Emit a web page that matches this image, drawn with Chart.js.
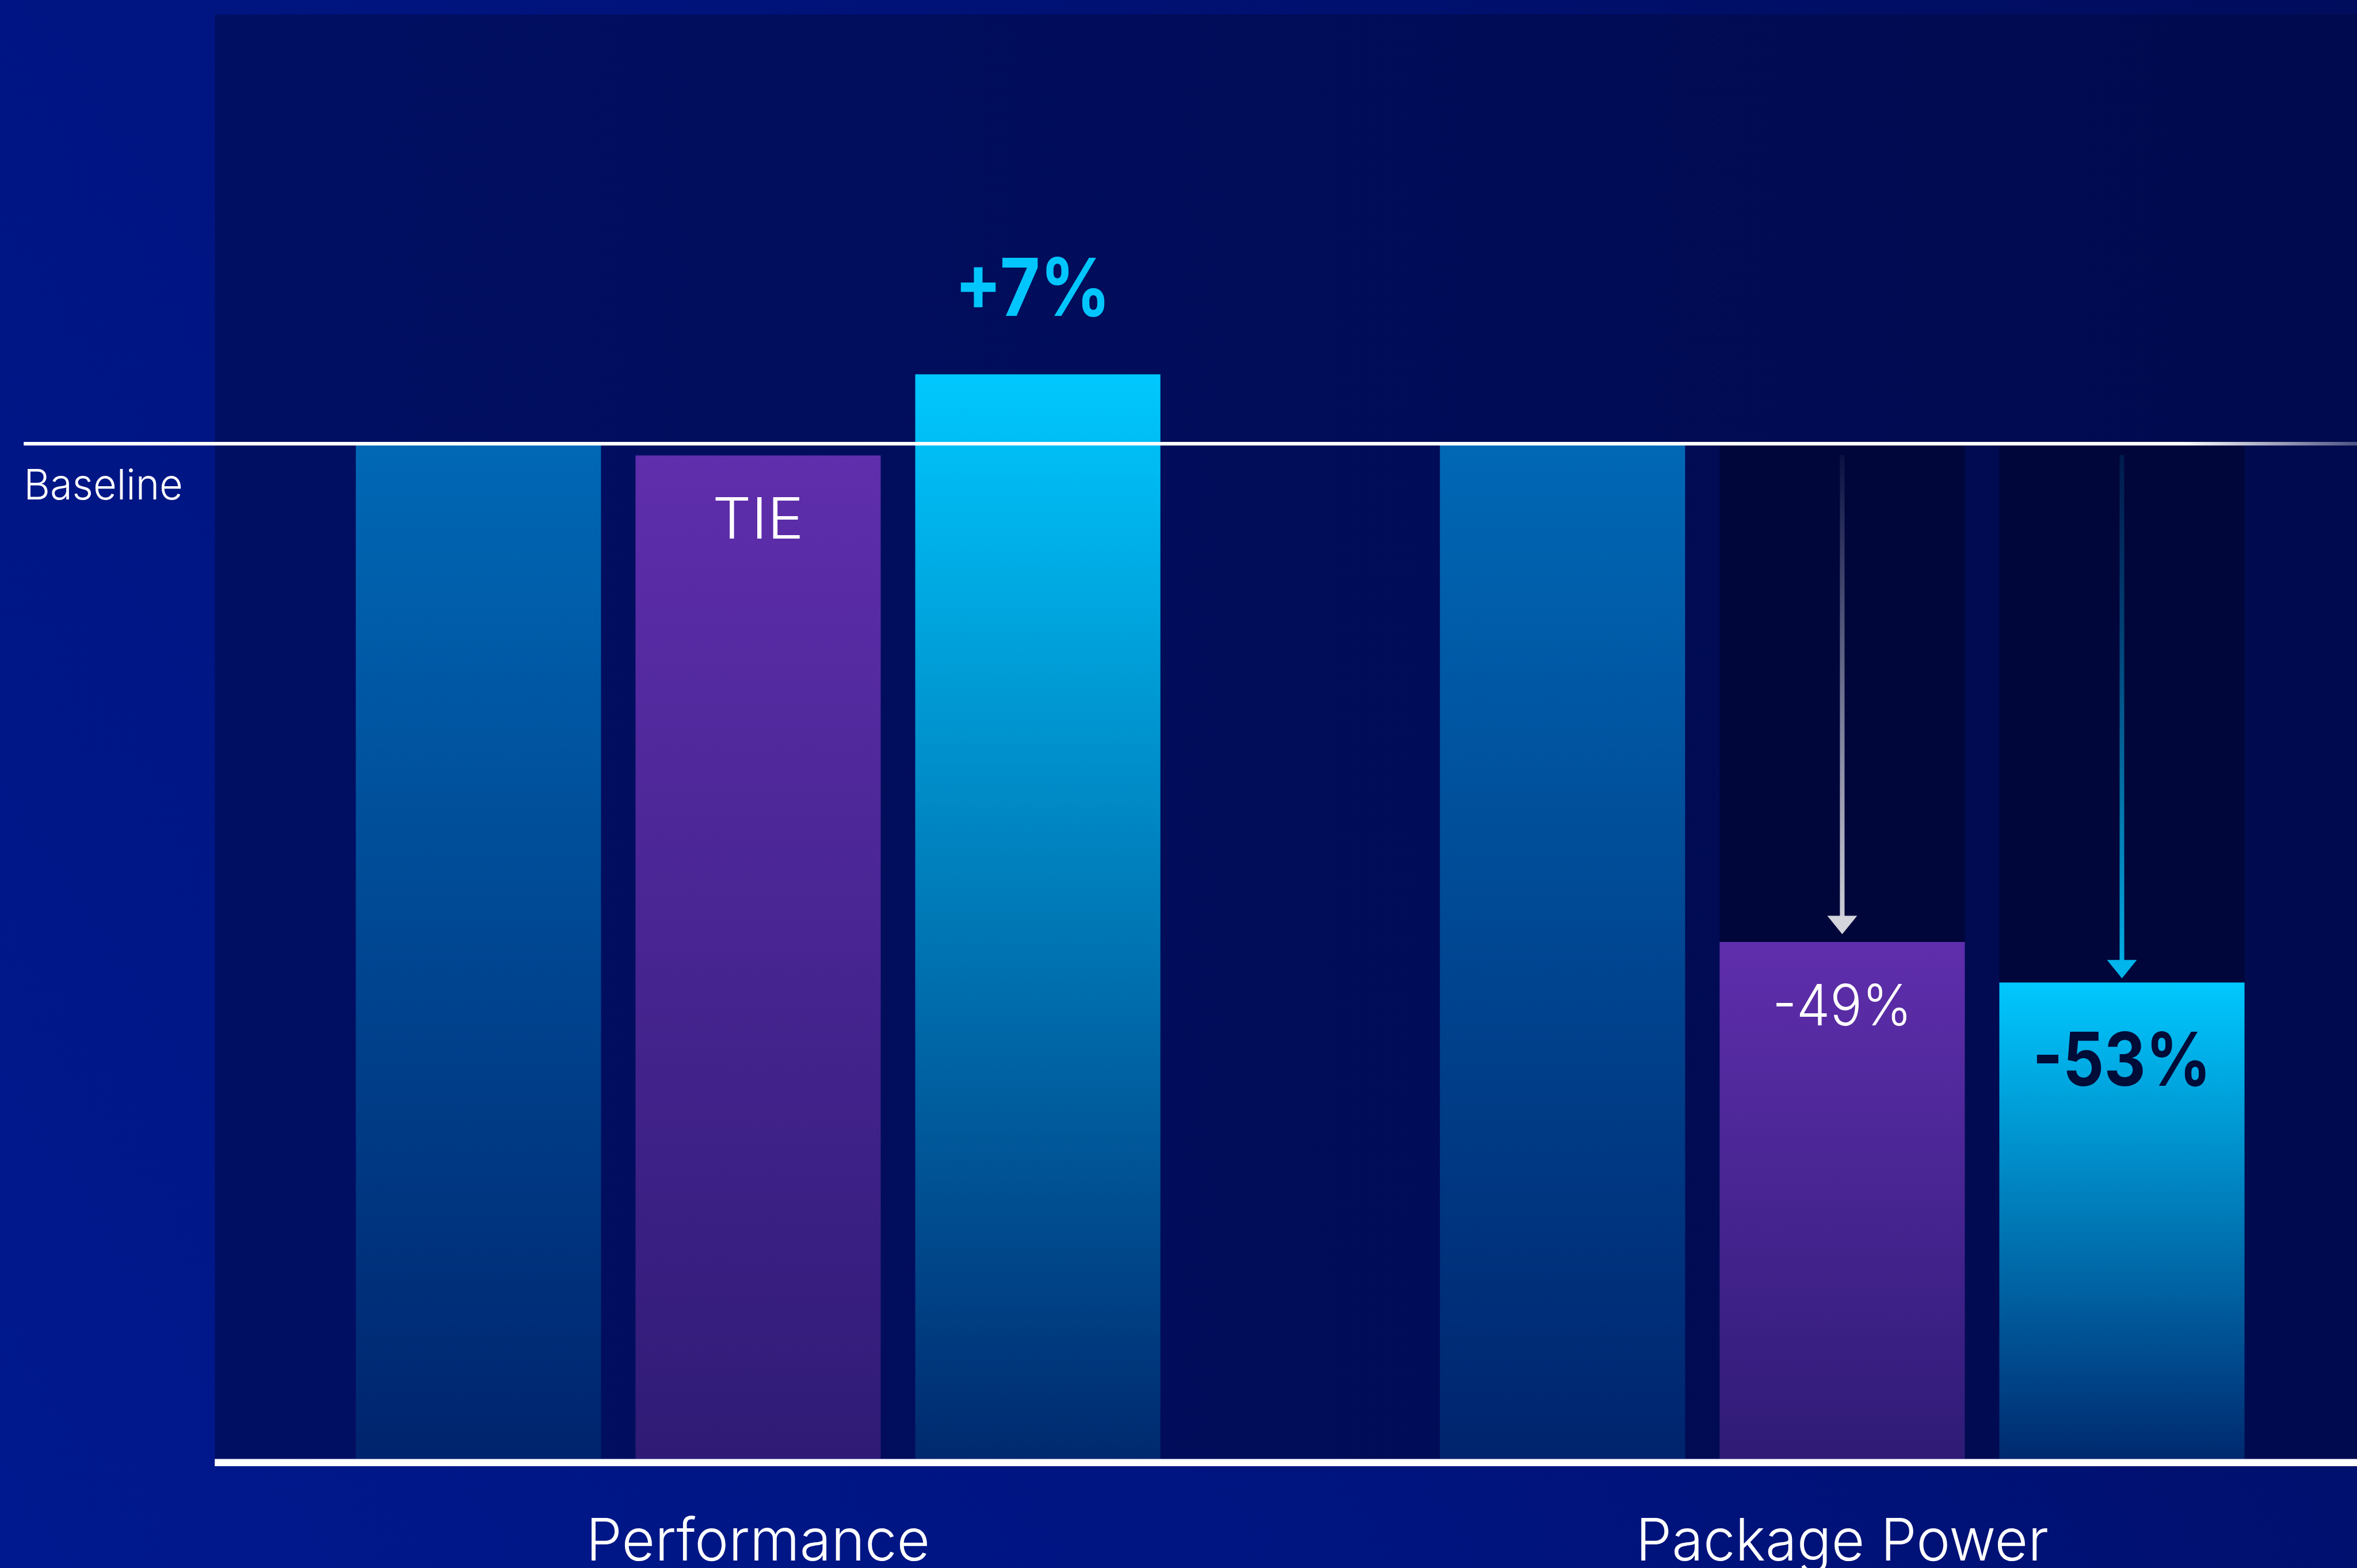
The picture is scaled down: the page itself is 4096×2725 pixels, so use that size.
<!DOCTYPE html>
<html>
<head>
<meta charset="utf-8">
<title>Performance and Package Power</title>
<script src="https://cdn.jsdelivr.net/npm/chart.js@4.4.1/dist/chart.umd.min.js"></script>
<style>
  html, body { margin: 0; padding: 0; overflow: hidden; background: #00127a; }
  #wrap { width: 4096px; height: 2725px; overflow: hidden; position: relative; }
  canvas { display: block; }
</style>
</head>
<body>
<div id="wrap"><canvas id="chart"></canvas></div>
<script>
// everything below is laid out in slide units and scaled down by S
const S = 0.895;

const categories = ['Performance', 'Package Power'];
const baselineValues = [100, 100];
const purpleValues = [99, 51];
const cyanValues = [107, 47];
const purpleLabels = ['TIE', '-49%'];
const cyanLabels = ['+7%', '-53%'];
const showReduction = [false, true];
const baselineText = 'Baseline';
const yMax = 142.5;

// dark "missing" part of the bar up to the baseline
const purpleGap = purpleValues.map((v, i) => showReduction[i] ? baselineValues[i] - v : null);
const cyanGap = cyanValues.map((v, i) => showReduction[i] ? baselineValues[i] - v : null);

const canvas = document.getElementById('chart');
const CW = Math.ceil(4629.5 * S);
const CH = 2725;
canvas.width = CW;
canvas.height = CH;
canvas.style.width = CW + 'px';
canvas.style.height = CH + 'px';

const FONT = 'Inter, "Noto Sans", sans-serif';

// vertical gradient from the top of the bar down to zero
function barGradient(topColor, bottomColor) {
  return (context) => {
    const chart = context.chart;
    if (!chart.chartArea || context.parsed == null) return topColor;
    const y = chart.scales.y;
    const y0 = y.getPixelForValue(context.parsed.y);
    const y1 = y.getPixelForValue(0);
    const g = chart.ctx.createLinearGradient(0, y0, 0, y1);
    g.addColorStop(0, topColor);
    g.addColorStop(1, bottomColor);
    return g;
  };
}

// squeeze < 1 narrows the glyphs a bit (the slide font is more condensed than Inter)
function text(ctx, str, x, y, font, color, align, squeeze) {
  ctx.save();
  ctx.font = font;
  ctx.fillStyle = color;
  ctx.textAlign = align || 'center';
  ctx.textBaseline = 'alphabetic';
  ctx.translate(x, y);
  ctx.scale(squeeze || 1, 1);
  ctx.fillText(str, 0, 0);
  ctx.restore();
}

function arrow(ctx, x, yTop, yTip, colorTop, colorBottom) {
  const shaft = 9 * S;
  const headH = 36 * S;
  const headW = 29 * S;
  const g = ctx.createLinearGradient(0, yTop, 0, yTip);
  g.addColorStop(0, colorTop);
  g.addColorStop(1, colorBottom);
  ctx.save();
  ctx.fillStyle = g;
  ctx.fillRect(x - shaft / 2, yTop, shaft, yTip - headH - yTop + 1);
  ctx.beginPath();
  ctx.moveTo(x - headW, yTip - headH);
  ctx.lineTo(x + headW, yTip - headH);
  ctx.lineTo(x, yTip);
  ctx.closePath();
  ctx.fillStyle = colorBottom;
  ctx.fill();
  ctx.restore();
}

const slideBackground = {
  id: 'slideBackground',
  beforeDraw(chart) {
    const ctx = chart.ctx;
    const area = chart.chartArea;
    ctx.save();
    const bg = ctx.createLinearGradient(0, CH, 4096, 0);
    bg.addColorStop(0, '#00198e');
    bg.addColorStop(0.5, '#00137c');
    bg.addColorStop(1, '#000c5c');
    ctx.fillStyle = bg;
    ctx.fillRect(0, 0, CW, CH);

    // darker plotting panel
    const px = 417 * S;
    const panel = ctx.createLinearGradient(px, 0, 4096, 0);
    panel.addColorStop(0, '#010f63');
    panel.addColorStop(1, '#000a4e');
    ctx.fillStyle = panel;
    ctx.fillRect(px, area.top, CW - px, area.bottom - area.top);
    ctx.restore();
  }
};

const annotations = {
  id: 'annotations',
  afterDatasetsDraw(chart) {
    const ctx = chart.ctx;
    const area = chart.chartArea;
    const x = chart.scales.x;
    const y = chart.scales.y;
    const purpleBars = chart.getDatasetMeta(1).data;
    const cyanBars = chart.getDatasetMeta(3).data;

    // baseline rule, fading out on the right
    const yBase = y.getPixelForValue(baselineValues[0]) - 3 * S;
    const lineG = ctx.createLinearGradient(4238 * S, 0, 4576 * S, 0);
    lineG.addColorStop(0, 'rgba(255,255,255,1)');
    lineG.addColorStop(1, 'rgba(255,255,255,0.3)');
    ctx.save();
    ctx.fillStyle = lineG;
    ctx.fillRect(46 * S, yBase - 3.5 * S, CW, 7 * S);
    ctx.restore();
    text(ctx, baselineText, 46 * S, 970 * S, `300 ${82 * S}px ${FONT}`, '#ffffff', 'left', 0.96);

    // reduction arrows in the dark part of the bars
    categories.forEach((c, i) => {
      if (!showReduction[i]) return;
      const top = yBase + 22 * S;
      const pb = purpleBars[i];
      arrow(ctx, pb.x, top, pb.y - 15 * S, 'rgba(210,211,222,0.05)', '#d3d4dc');
      const cb = cyanBars[i];
      arrow(ctx, cb.x, top, cb.y - 8 * S, 'rgba(0,40,90,0.6)', '#00b4ec');
    });

    // value labels
    categories.forEach((c, i) => {
      const pb = purpleBars[i];
      const sq = purpleLabels[i].length > 3 ? 0.94 : 1.08;
      text(ctx, purpleLabels[i], pb.x, pb.y + 162 * S, `300 ${110 * S}px ${FONT}`, '#ffffff', 'center', sq);
      const cb = cyanBars[i];
      if (cyanValues[i] > baselineValues[i]) {
        text(ctx, cyanLabels[i], cb.x - 10 * S, cb.y - 113 * S, `650 ${155 * S}px ${FONT}`, '#00c6fd', 'center', 0.87);
      } else {
        text(ctx, cyanLabels[i], cb.x, cb.y + 201 * S, `650 ${144 * S}px ${FONT}`, '#000c38', 'center', 0.87);
      }
    });

    // zero axis
    ctx.save();
    ctx.fillStyle = '#ffffff';
    ctx.fillRect(417 * S, area.bottom, CW, 14 * S);
    ctx.restore();

    // category names
    categories.forEach((c, i) => {
      text(ctx, c, x.getPixelForValue(i), 3030 * S, `300 ${114 * S}px ${FONT}`, '#ffffff', 'center', 0.975);
    });
  }
};

new Chart(canvas.getContext('2d'), {
  type: 'bar',
  data: {
    labels: categories,
    datasets: [
      { label: 'Baseline', data: baselineValues, stack: 'base',
        backgroundColor: barGradient('#0068b5', '#00246e') },
      { label: 'Purple', data: purpleValues, stack: 'purple',
        backgroundColor: barGradient('#5f2eac', '#2f1b76') },
      { label: 'Purple gap', data: purpleGap, stack: 'purple', backgroundColor: '#00063a' },
      { label: 'Cyan', data: cyanValues, stack: 'cyan',
        backgroundColor: barGradient('#00c8fe', '#00296f') },
      { label: 'Cyan gap', data: cyanGap, stack: 'cyan', backgroundColor: '#00063a' },
    ],
  },
  options: {
    responsive: false,
    animation: false,
    devicePixelRatio: 1,
    layout: {
      padding: { left: 419.5 * S, right: CW - 4629.5 * S, top: 28 * S, bottom: CH - 2833 * S },
    },
    datasets: { bar: { categoryPercentage: 0.774, barPercentage: 0.8766, borderWidth: 0 } },
    plugins: { legend: { display: false }, tooltip: { enabled: false } },
    scales: {
      x: { display: false, stacked: true },
      y: { display: false, stacked: true, min: 0, max: yMax },
    },
  },
  plugins: [slideBackground, annotations],
});
</script>
</body>
</html>
